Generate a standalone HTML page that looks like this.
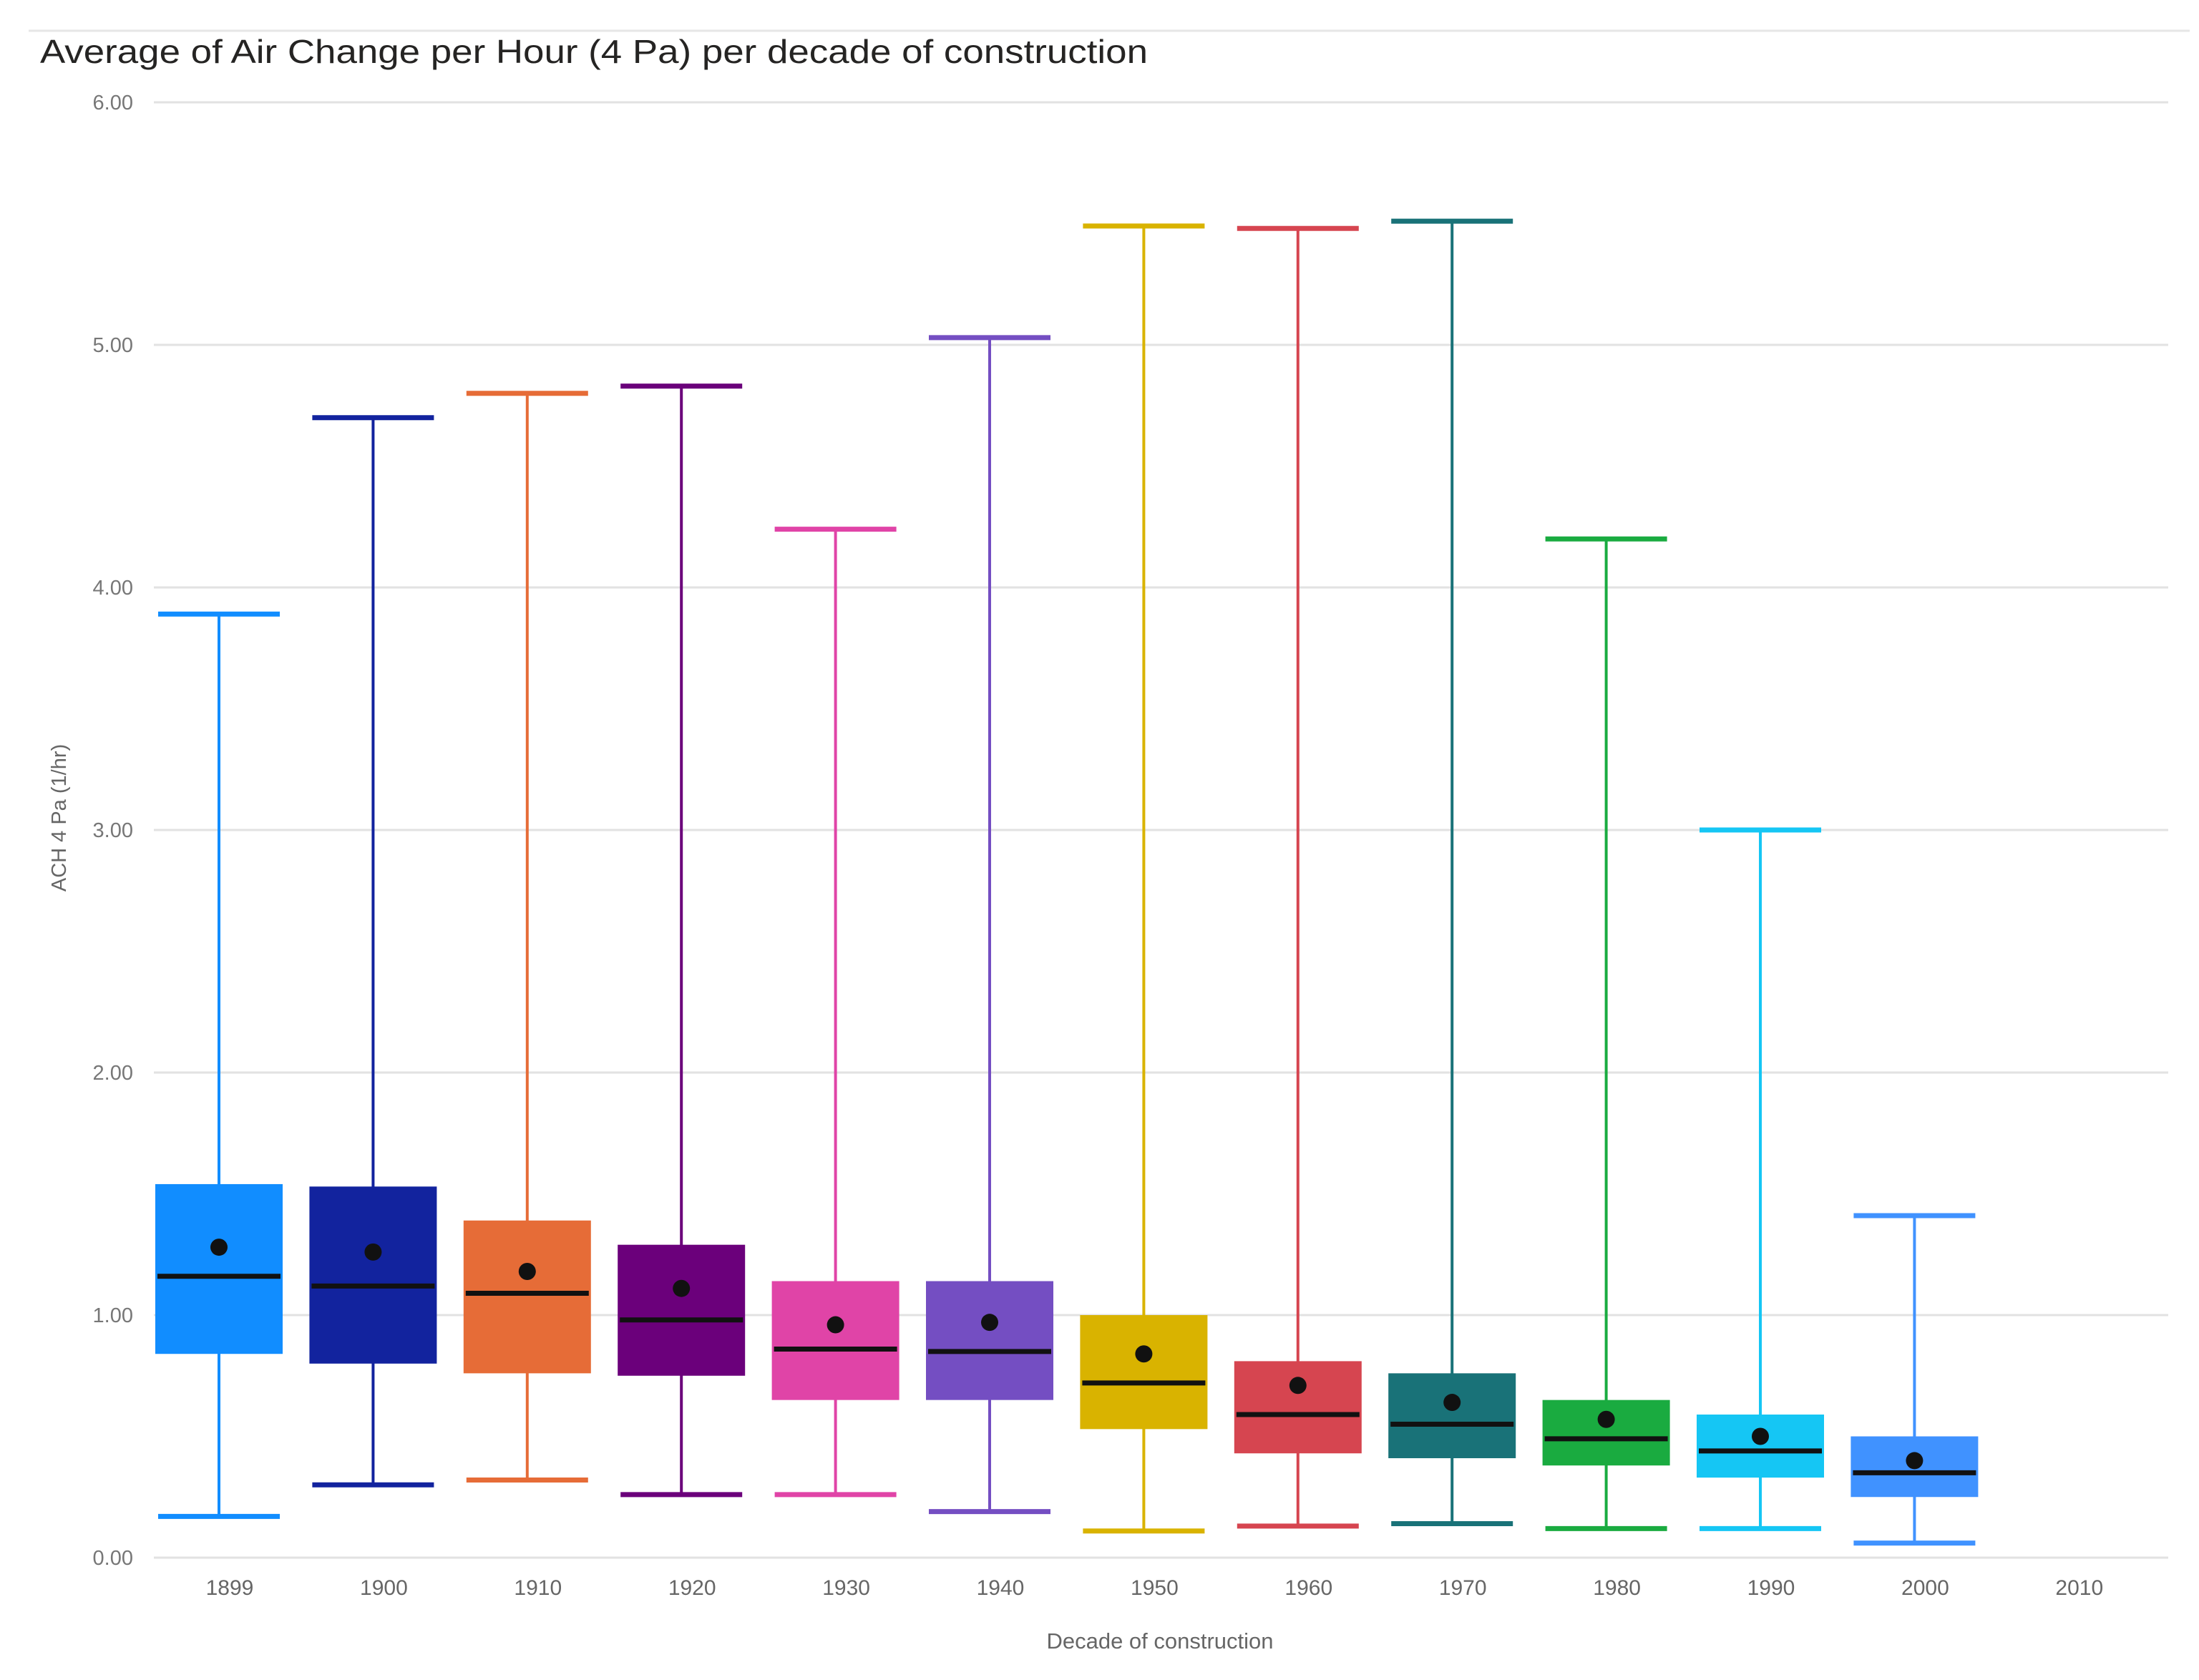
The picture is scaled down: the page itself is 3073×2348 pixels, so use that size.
<!DOCTYPE html>
<html><head><meta charset="utf-8">
<style>
html,body{margin:0;padding:0;background:#fff;}
svg{display:block;}
text{font-family:"Liberation Sans",sans-serif;}
</style></head>
<body>
<svg id="chart" width="3073" height="2348" viewBox="0 0 3073 2348" xmlns="http://www.w3.org/2000/svg">
<line x1="40" y1="43" x2="3060" y2="43" stroke="#e6e6e6" stroke-width="3"/>
<text x="56" y="88" font-size="46" fill="#252423" textLength="1548" lengthAdjust="spacingAndGlyphs">Average of Air Change per Hour (4 Pa) per decade of construction</text>
<text transform="translate(92,1143) rotate(-90)" text-anchor="middle" font-size="29" fill="#666">ACH 4 Pa (1/hr)</text>
<text x="1621" y="2304" text-anchor="middle" font-size="31" fill="#666">Decade of construction</text>
<g id="grid"></g><g id="boxes"></g><g id="xlabels"></g>
</svg>
<script>
const categories=["1899","1900","1910","1920","1930","1940","1950","1960","1970","1980","1990","2000","2010"];
const maxVals=[3.89,4.70,4.80,4.83,4.24,5.03,5.49,5.48,5.51,4.20,3.00,1.41,null];
const q3Vals=[1.54,1.53,1.39,1.29,1.14,1.14,1.00,0.81,0.76,0.65,0.59,0.50,null];
const meanVals=[1.28,1.26,1.18,1.11,0.96,0.97,0.84,0.71,0.64,0.57,0.50,0.40,null];
const medianVals=[1.16,1.12,1.09,0.98,0.86,0.85,0.72,0.59,0.55,0.49,0.44,0.35,null];
const q1Vals=[0.84,0.80,0.76,0.75,0.65,0.65,0.53,0.43,0.41,0.38,0.33,0.25,null];
const minVals=[0.17,0.30,0.32,0.26,0.26,0.19,0.11,0.13,0.14,0.12,0.12,0.06,null];
const colors=["#118DFF","#12239E","#E66C37","#6B007B","#E044A7","#744EC2","#D9B300","#D64550","#197278","#1AAB40","#15C6F4","#4092FF","#999"];
const yTicks=[0,1,2,3,4,5,6];
const yTickLabels=["0.00","1.00","2.00","3.00","4.00","5.00","6.00"];
const NS="http://www.w3.org/2000/svg";
const y=v=>2177-(v/6)*(2177-143);
const x=i=>306+i*215.4;
function mk(tag,attrs,parent){const e=document.createElementNS(NS,tag);for(const k in attrs)e.setAttribute(k,attrs[k]);parent.appendChild(e);return e;}
const grid=document.getElementById('grid'),boxes=document.getElementById('boxes'),xl=document.getElementById('xlabels');
yTicks.forEach((t,i)=>{
  const l=mk('line',{x1:215,x2:3030,y1:y(t),y2:y(t),stroke:'#e2e2e2','stroke-width':3},grid);
  
  
  const tx=mk('text',{x:186,y:y(t)+10,'text-anchor':'end','font-size':29,fill:'#777'},grid);
  tx.textContent=yTickLabels[i];
  
  
});
categories.forEach((c,i)=>{
  const tx=mk('text',{x:x(i)+15,y:2229,'text-anchor':'middle','font-size':30,fill:'#666'},xl);
  tx.textContent=c;
  
  
  if(maxVals[i]==null)return;
  const g=mk('g',{},boxes);
  
  
  const cx=x(i),col=colors[i];
  mk('line',{x1:cx,x2:cx,y1:y(maxVals[i]),y2:y(minVals[i]),stroke:col,'stroke-width':4},g);
  mk('line',{x1:cx-85,x2:cx+85,y1:y(maxVals[i]),y2:y(maxVals[i]),stroke:col,'stroke-width':7},g);
  mk('line',{x1:cx-85,x2:cx+85,y1:y(minVals[i]),y2:y(minVals[i]),stroke:col,'stroke-width':7},g);
  mk('rect',{x:cx-89,y:y(q3Vals[i]),width:178,height:y(q1Vals[i])-y(q3Vals[i]),fill:col},g);
  mk('line',{x1:cx-86,x2:cx+86,y1:y(medianVals[i]),y2:y(medianVals[i]),stroke:'#111','stroke-width':7},g);
  mk('circle',{cx:cx,cy:y(meanVals[i]),r:12,fill:'#111'},g);
});
</script>
</body></html>
